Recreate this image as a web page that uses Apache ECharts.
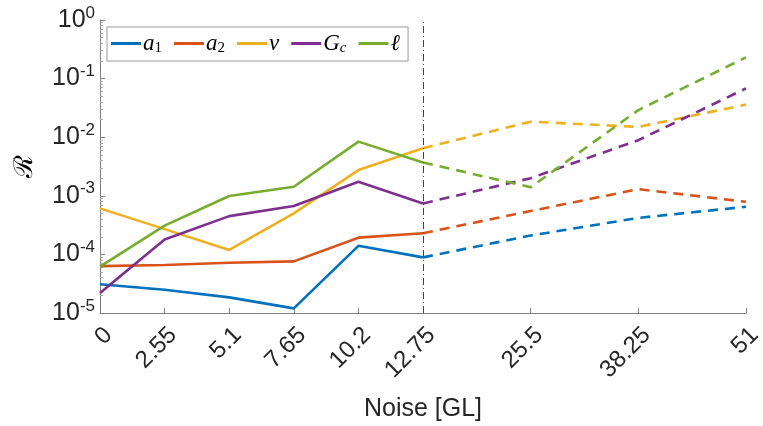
<!DOCTYPE html>
<html><head><meta charset="utf-8">
<script src="https://cdn.jsdelivr.net/npm/echarts@6/dist/echarts.min.js"></script>
<style>html,body{margin:0;padding:0;background:#fff}#c{width:763px;height:426px}</style>
</head><body><div id="c"></div>
<script>
const xLabels = ['0','2.55','5.1','7.65','10.2','12.75','25.5','38.25','51'];
const xPos = [0,1,2,3,4,5,20/3,25/3,10];
const a1  = [3.1e-5,2.5e-5,1.85e-5,1.2e-5,1.4e-4,8.9e-5,2.1e-4,4.2e-4,6.5e-4];
const a2  = [6.3e-5,6.6e-5,7.2e-5,7.6e-5,1.93e-4,2.3e-4,5.5e-4,1.3e-3,7.9e-4];
const nu  = [6.1e-4,2.7e-4,1.19e-4,5.0e-4,2.75e-3,6.5e-3,1.84e-2,1.5e-2,3.6e-2];
const Gc  = [2.2e-5,1.8e-4,4.5e-4,6.7e-4,1.74e-3,7.4e-4,2.0e-3,8.9e-3,6.8e-2];
const ell = [6.2e-5,3.1e-4,9.9e-4,1.43e-3,8.4e-3,3.7e-3,1.4e-3,2.9e-2,0.23];
const names = ['a1','a2','nu','Gc','ell'];
const colors = ['#0072BD','#D95319','#EDB120','#7E2F8E','#77AC30'];
const allData = [a1,a2,nu,Gc,ell];
const splitIdx = 5;

const series = [];
allData.forEach((d,i)=>{
  const solid = d.slice(0,splitIdx+1).map((v,k)=>[xPos[k],v]);
  const dashed = d.slice(splitIdx).map((v,k)=>[xPos[k+splitIdx],v]);
  series.push({name:names[i],type:'line',data:solid,showSymbol:false,symbol:'none',
    lineStyle:{color:colors[i],width:2.6},itemStyle:{color:colors[i]},z:3,emphasis:{disabled:true},silent:true});
  series.push({name:names[i],type:'line',data:dashed,showSymbol:false,symbol:'none',
    lineStyle:{color:colors[i],width:2.6,type:[10,7]},itemStyle:{color:colors[i]},z:3,emphasis:{disabled:true},silent:true});
});
series[0].markLine = {silent:true,symbol:'none',label:{show:false},
  lineStyle:{color:'#444',width:1,type:[7,3,1,3]},data:[{xAxis:xPos[splitIdx]}],animation:false};

const mathRich = {
  m:{fontFamily:'Liberation Serif',fontStyle:'italic',fontSize:23,color:'#000'},
  s:{fontFamily:'Liberation Serif',fontSize:15,color:'#000',verticalAlign:'bottom',padding:[10,0,0,0]},
  si:{fontFamily:'Liberation Serif',fontStyle:'italic',fontSize:15,color:'#000',verticalAlign:'bottom',padding:[10,0,0,0]}
};
const legendFmt = {a1:'{m|a}{s|1}',a2:'{m|a}{s|2}',nu:'{m|ν}',Gc:'{m|G}{si|c}',ell:'{m|ℓ}'};

const chart = echarts.init(document.getElementById('c'));
chart.setOption({
  animation:false,
  backgroundColor:'#fff',
  grid:{left:100,right:17,top:20,bottom:113,containLabel:false,outerBoundsMode:'none'},
  legend:{
    data:names, left:107, top:27, orient:'horizontal',
    backgroundColor:'#fff', borderColor:'#999', borderWidth:1, borderRadius:0,
    padding:[5,8,5,4], itemGap:12, itemWidth:30, itemHeight:3, icon:'rect',
    formatter:n=>legendFmt[n],
    textStyle:{rich:mathRich,padding:[0,0,0,-3]},
    selectedMode:false
  },
  xAxis:{
    type:'value',min:0,max:10,
    name:'Noise [GL]',nameLocation:'middle',nameGap:84,
    nameTextStyle:{fontFamily:'Liberation Sans',fontSize:25,color:'#262626'},
    axisLine:{show:true,lineStyle:{color:'#808080',width:1}},
    axisTick:{show:true,inside:true,length:5,customValues:xPos,lineStyle:{color:'#808080'}},
    axisLabel:{customValues:xPos,rotate:45,fontFamily:'Liberation Sans',fontSize:24,color:'#262626',margin:10,
      align:'right',verticalAlign:'top',hideOverlap:false,
      formatter:v=>{let b=0,bd=1e9;xPos.forEach((p,i)=>{const dd=Math.abs(p-v);if(dd<bd){bd=dd;b=i;}});return xLabels[b];}},
    splitLine:{show:false}
  },
  yAxis:{
    type:'log',logBase:10,min:1e-5,max:1,
    name:'ℛ',nameLocation:'middle',nameGap:62,nameRotate:90,
    nameTextStyle:{fontFamily:'DejaVu Serif',fontSize:26,color:'#000'},
    axisLine:{show:true,lineStyle:{color:'#808080',width:1}},
    axisTick:{show:true,inside:true,length:5,lineStyle:{color:'#808080'}},
    minorTick:{show:true,splitNumber:9,length:3,lineStyle:{color:'#aaa'}},
    axisLabel:{margin:5,
      formatter:v=>{const e=Math.round(Math.log10(v));return '{b|10}{e|'+e+'}';},
      rich:{b:{fontFamily:'Liberation Sans',fontSize:25,color:'#262626'},
            e:{fontFamily:'Liberation Sans',fontSize:17,color:'#262626',verticalAlign:'top',padding:[0,0,14,0]}}},
    splitLine:{show:false}
  },
  series:series
});
</script></body></html>
